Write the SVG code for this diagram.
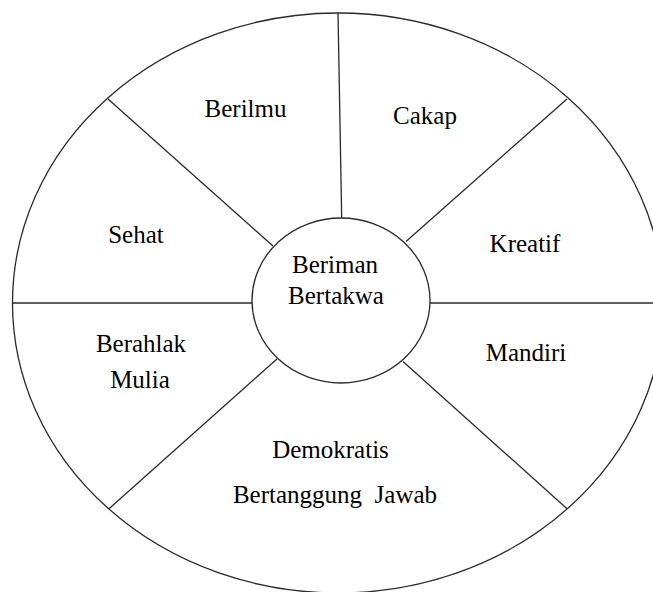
<svg xmlns="http://www.w3.org/2000/svg" width="653" height="592" viewBox="0 0 653 592">
<style>
.ln{stroke:#2a2a2a;stroke-width:1.3;fill:none}
.sh{stroke:#2a2a2a;stroke-width:1.3;fill:#fff}
text{font-size:25px;fill:#000;text-anchor:middle}
</style>
<rect width="653" height="592" fill="#fff"/>
<g id="outer"><ellipse class="ln" cx="338" cy="303" rx="325.5" ry="290"/></g>
<g id="connectors">
<line class="ln" x1="338" y1="13" x2="341.7" y2="218"/>
<line class="ln" x1="108" y1="99" x2="273" y2="246"/>
<line class="ln" x1="567" y1="99" x2="406" y2="241.5"/>
<line class="ln" x1="12.5" y1="303" x2="252" y2="303"/>
<line class="ln" x1="430" y1="303" x2="653" y2="303"/>
<line class="ln" x1="277" y1="359" x2="109" y2="508.7"/>
<line class="ln" x1="403" y1="361.5" x2="567" y2="508.7"/>
</g>
<g font-family="Liberation Serif, Times New Roman, DejaVu Serif, serif">
<g id="center"><ellipse class="sh" cx="341" cy="300.5" rx="89" ry="82.5"/>
<text x="335" y="273">Beriman</text>
<text x="336" y="304">Bertakwa</text></g>
<g id="berilmu"><text x="245.5" y="117">Berilmu</text></g>
<g id="cakap"><text x="425" y="124">Cakap</text></g>
<g id="sehat"><text x="136" y="243">Sehat</text></g>
<g id="kreatif"><text x="525" y="252">Kreatif</text></g>
<g id="berahlak"><text x="141" y="352">Berahlak</text>
<text x="140" y="388">Mulia</text></g>
<g id="mandiri"><text x="526" y="361">Mandiri</text></g>
<g id="demokratis"><text x="330.5" y="458">Demokratis</text>
<text x="335" y="503" xml:space="preserve">Bertanggung  Jawab</text></g>
</g>
</svg>
